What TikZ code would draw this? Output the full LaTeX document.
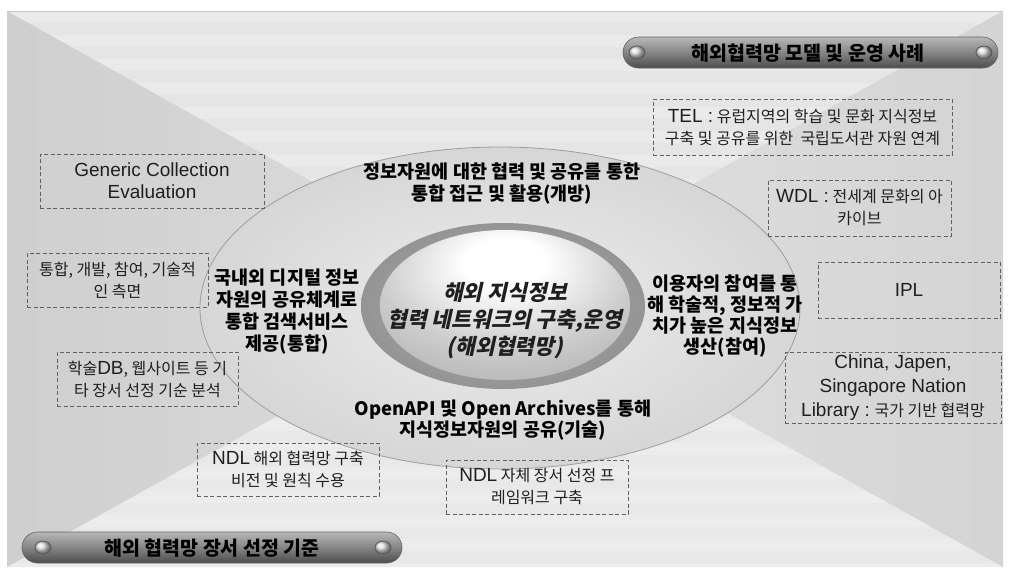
\documentclass[tikz,border=0pt]{standalone}
\usepackage{fontspec}
\setmainfont{Liberation Sans}
\newfontfamily\kr{Noto Sans CJK KR}
\newfontfamily\krsl[FakeSlant=0.22]{Noto Sans CJK KR}
\newfontfamily\latf{Liberation Sans}
\newcommand\lt[1]{{\latf\fontsize{19}{22}\selectfont #1}}
\pgfdeclareradialshading{sphereshade}{\pgfpoint{0bp}{16bp}}{%
  color(0bp)=(white); color(8bp)=(white);
  color(25bp)=(black!20); color(45bp)=(black!36);
  color(58bp)=(black!47); color(70bp)=(black!52)}
\begin{document}
\begin{tikzpicture}[x=1pt,y=-1pt,
  dbox/.style={draw=black!62, dash pattern=on 4pt off 2.5pt, line width=0.7pt,
    inner sep=0pt, align=center, font=\kr\fontsize{16}{22}\selectfont, text=black!88},
  btxt/.style={align=center, font=\kr\bfseries\fontsize{18.5}{22}\selectfont, text=black},
  ctxtstyle/.style={align=center, font=\krsl\bfseries\fontsize{21.5}{27}\selectfont, text=black!88},
  pilltxt/.style={font=\kr\bfseries\fontsize{19.5}{22}\selectfont, text=black},
  pillbar/.style={top color=black!28, bottom color=black!70, middle color=black!48},
  knob/.style={ball color=black!12},
]
\useasboundingbox (0,0) rectangle (1009,571);
\fill[white] (0,0) rectangle (1009,571);
% background panel
\coordinate (TL) at (7,11);
\coordinate (TR) at (1003,11);
\coordinate (BR) at (1003,567);
\coordinate (BL) at (7,567);
\coordinate (C) at (505,289);
\fill[black!10] (TL) -- (TR) -- (C) -- cycle;
\fill[black!9] (BL) -- (BR) -- (C) -- cycle;
\begin{scope}
  \clip (TL) -- (TR) -- (C) -- cycle (BL) -- (BR) -- (C) -- cycle;
  \foreach \yy in {11,35,...,567} {\fill[white, opacity=0.2] (7,\yy) rectangle (1003,\yy+12);}
\end{scope}
\shade[left color=black!19, right color=black!13] (TL) -- (C) -- (BL) -- cycle;
\shade[right color=black!17, left color=black!12] (TR) -- (C) -- (BR) -- cycle;
\draw[black!22, line width=1pt] (TL) -- (TR);
% outer ellipse
\shade[inner color=black!7, outer color=black!16] (500,308) ellipse [x radius=300pt, y radius=161pt];
\draw[black!38, line width=0.8pt] (500,308) ellipse [x radius=300pt, y radius=161pt];
% inner ring and sphere
\shade[inner color=black!30, outer color=black!42] (503,306) ellipse [x radius=142pt, y radius=83pt];
\shade[shading=sphereshade] (505,305) ellipse [x radius=125pt, y radius=75pt];
% texts in the ellipse
\node[btxt] (toptxt) at (502,184) {정보자원에 대한 협력 및 공유를 통한\\통합 접근 및 활용(개방)};
\node[btxt] (lefttxt) at (287,312) {국내외 디지털 정보\\자원의 공유체계로\\통합 검색서비스\\제공(통합)};
\node[btxt, font=\kr\bfseries\fontsize{18.5}{21}\selectfont] (righttxt) at (725,316.5) {이용자의 참여를 통\\해 학술적, 정보적 가\\치가 높은 지식정보\\생산(참여)};
\node[btxt, font=\kr\bfseries\fontsize{18.5}{21}\selectfont] (bottxt) at (503,420.5) {OpenAPI 및 Open Archives를 통해\\지식정보자원의 공유(기술)};
\node[ctxtstyle] (ctxt) at (505,321) {해외 지식정보\\협력 네트워크의 구축,운영\\(해외협력망)};
% dashed boxes
\node[dbox, minimum width=224pt, minimum height=54pt] (gen) at (152,181) {\lt{Generic Collection}\\\lt{Evaluation}};
\node[dbox, minimum width=181pt, minimum height=54pt] (tong) at (117.5,280) {통합, 개발, 참여, 기술적\\인 측면};
\node[dbox, minimum width=181pt, minimum height=54pt] (hak) at (147.5,379) {학술\lt{DB}, 웹사이트 등 기\\타 장서 선정 기순 분석};
\node[dbox, minimum width=299pt, minimum height=56pt] (tel) at (802.5,127) {\lt{TEL :} 유럽지역의 학습 및 문화 지식정보\\구축 및 공유를 위한\ \ 국립도서관 자원 연계};
\node[dbox, minimum width=183pt, minimum height=56pt] (wdl) at (859.5,208) {\lt{WDL :} 전세계 문화의 아\\카이브};
\node[dbox, minimum width=182pt, minimum height=56pt] (ipl) at (909,290) {\lt{IPL}};
\node[dbox, minimum width=216pt, minimum height=71pt, font=\kr\fontsize{16}{24}\selectfont] (china) at (893,387.5) {\lt{China, Japen,}\\\lt{Singapore Nation}\\\lt{Library :} 국가 기반 협력망};
\node[dbox, minimum width=182pt, minimum height=53pt] (ndla) at (288,469.5) {\lt{NDL} 해외 협력망 구축\\비전 및 원칙 수용};
\node[dbox, minimum width=182pt, minimum height=54pt] (ndlb) at (537,487) {\lt{NDL} 자체 장서 선정 프\\레임워크 구축};
% top pill
\shade[pillbar, rounded corners=15.5pt] (623,37) rectangle (998,68);
\draw[black!62, rounded corners=15.5pt, line width=0.6pt] (623,37) rectangle (998,68);
\shade[knob] (637,52.5) ellipse [x radius=8pt, y radius=6.5pt];
\draw[black!65, line width=0.8pt] (637,52.5) ellipse [x radius=8pt, y radius=6.5pt];
\shade[knob] (984,52.5) ellipse [x radius=8pt, y radius=6.5pt];
\draw[black!65, line width=0.8pt] (984,52.5) ellipse [x radius=8pt, y radius=6.5pt];
\node[pilltxt] (toppill) at (808,53) {해외협력망 모델 및 운영 사례};
% bottom pill
\shade[pillbar, rounded corners=15.5pt] (22,532) rectangle (402,563);
\draw[black!62, rounded corners=15.5pt, line width=0.6pt] (22,532) rectangle (402,563);
\shade[knob] (43,547.5) ellipse [x radius=8pt, y radius=6.5pt];
\draw[black!65, line width=0.8pt] (43,547.5) ellipse [x radius=8pt, y radius=6.5pt];
\shade[knob] (383,547.5) ellipse [x radius=8pt, y radius=6.5pt];
\draw[black!65, line width=0.8pt] (383,547.5) ellipse [x radius=8pt, y radius=6.5pt];
\node[pilltxt] (botpill) at (212,548) {해외 협력망 장서 선정 기준};
\end{tikzpicture}
\end{document}
